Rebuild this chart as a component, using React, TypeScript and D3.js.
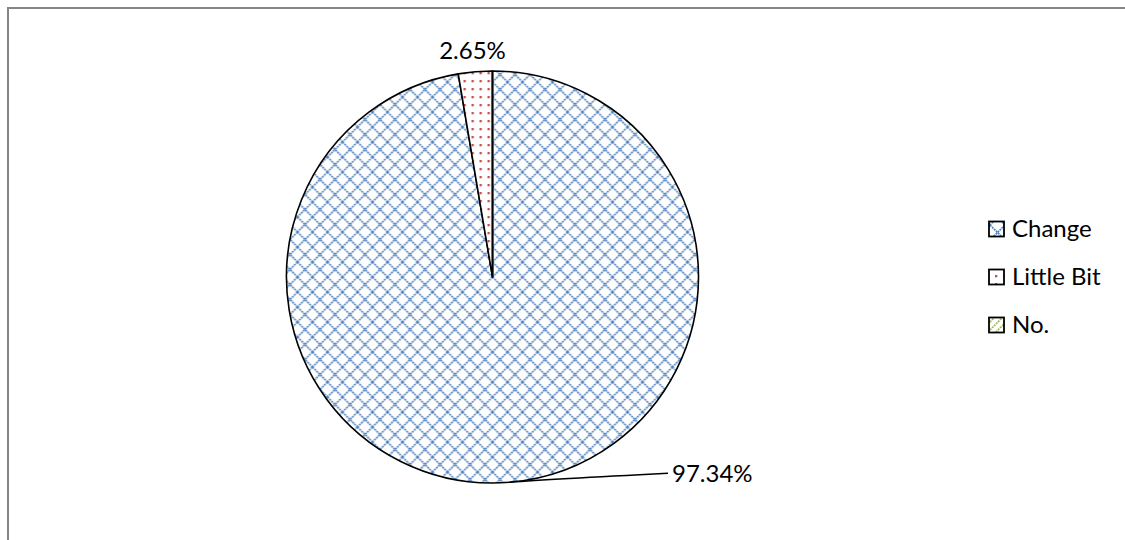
import React from "react";
import * as d3 from "d3";

// Survey answers and their share of responses (percent)
const categories: string[] = ["Change", "Little Bit", "No."];
const shares: number[] = [97.34, 2.65, 0.01];
const seriesColors: string[] = ["#4F81BD", "#C0504D", "#9BBB59"];

const W = 1125;
const H = 540;
const FONT = "Lato, 'Open Sans', sans-serif";
const FONT_SIZE = 24;

type Datum = { name: string; value: number; index: number };

export default function App() {
  const cx = 492.5;
  const cy = 277;
  const r = 206;

  const data: Datum[] = categories.map((name, index) => ({ name, value: shares[index], index }));

  const pie = d3
    .pie<Datum>()
    .sort(null)
    .value((d) => d.value)
    .startAngle(0)
    .endAngle(2 * Math.PI);
  const arcs = pie(data);

  const arc = d3.arc<d3.PieArcDatum<Datum>>().innerRadius(0).outerRadius(r);

  const point = (angle: number, radius: number): [number, number] => [
    cx + radius * Math.sin(angle),
    cy - radius * Math.cos(angle),
  ];

  const legendX = 989;
  const legendY = d3.scalePoint<string>().domain(categories).range([229, 325]);

  // lattice lines for the dotted-diamond fill
  const P = 15;
  const diag = [-P, 0, P];

  return (
    <div style={{ position: "absolute", left: 0, top: 0, width: W, height: H }}>
      <svg width={W} height={H} style={{ display: "block" }}>
        <defs>
          <pattern id="fill-0" patternUnits="userSpaceOnUse" width={P} height={P}>
            <rect width={P} height={P} fill="#fff" />
            {diag.map((k) => (
              <line
                key={"a" + k}
                x1={k}
                y1={0}
                x2={k + P}
                y2={P}
                stroke={seriesColors[0]}
                strokeWidth={1.6}
                strokeDasharray="2 0.8"
              />
            ))}
            {diag.map((k) => (
              <line
                key={"b" + k}
                x1={k + P}
                y1={0}
                x2={k}
                y2={P}
                stroke={seriesColors[0]}
                strokeWidth={1.6}
                strokeDasharray="2 0.8"
              />
            ))}
          </pattern>
          <pattern id="fill-1" patternUnits="userSpaceOnUse" width={8} height={8}>
            <rect width={8} height={8} fill="#fff" />
            <rect x={3} y={3} width={2.3} height={2.3} fill={seriesColors[1]} />
          </pattern>
          <pattern id="fill-2" patternUnits="userSpaceOnUse" width={8} height={8}>
            <rect width={8} height={8} fill="#fff" />
            {[-8, 0, 8].map((k) => (
              <line
                key={k}
                x1={k}
                y1={8}
                x2={k + 8}
                y2={0}
                stroke={seriesColors[2]}
                strokeWidth={1.6}
                strokeDasharray="2 0.8"
              />
            ))}
          </pattern>
        </defs>

        {/* chart area frame */}
        <rect x={8} y={8} width={W} height={H} fill="#fff" stroke="#868686" strokeWidth={2} />

        {/* slices */}
        <g transform={`translate(${cx},${cy})`}>
          {arcs.map((a) => (
            <path
              key={a.data.name}
              d={arc(a) || ""}
              fill={`url(#fill-${a.data.index})`}
              stroke="#000"
              strokeWidth={1.6}
              strokeLinejoin="round"
            />
          ))}
        </g>

        {/* data labels */}
        {arcs.map((a) => {
          if (a.data.value < 1) return null;
          const mid = (a.startAngle + a.endAngle) / 2;
          const label = `${a.data.value.toFixed(2)}%`;
          if (a.data.value > 50) {
            const [x0, y0] = point(mid, r);
            const x1 = 668;
            const y1 = y0 - 9;
            return (
              <g key={a.data.name}>
                <path
                  d={`M${x0},${y0} Q${x0 + 40},${y0 - 3} ${x1},${y1}`}
                  fill="none"
                  stroke="#000"
                  strokeWidth={1.6}
                />
                <text
                  x={x1 + 4}
                  y={y1}
                  dy="0.35em"
                  fontFamily={FONT}
                  fontSize={FONT_SIZE}
                  fill="#000"
                >
                  {label}
                </text>
              </g>
            );
          }
          const [lx, ly] = point(mid, r + 21);
          return (
            <text
              key={a.data.name}
              x={lx - 1}
              y={ly}
              dy="0.35em"
              textAnchor="middle"
              fontFamily={FONT}
              fontSize={FONT_SIZE}
              fill="#000"
            >
              {label}
            </text>
          );
        })}

        {/* legend */}
        {categories.map((name, i) => {
          const y = legendY(name) as number;
          return (
            <g key={name}>
              <rect
                x={legendX}
                y={y - 7.5}
                width={15}
                height={15}
                fill={`url(#fill-${i})`}
                stroke="#000"
                strokeWidth={1.8}
              />
              <text
                x={legendX + 23}
                y={y}
                dy="0.35em"
                fontFamily={FONT}
                fontSize={FONT_SIZE}
                fill="#000"
              >
                {name}
              </text>
            </g>
          );
        })}
      </svg>
    </div>
  );
}
